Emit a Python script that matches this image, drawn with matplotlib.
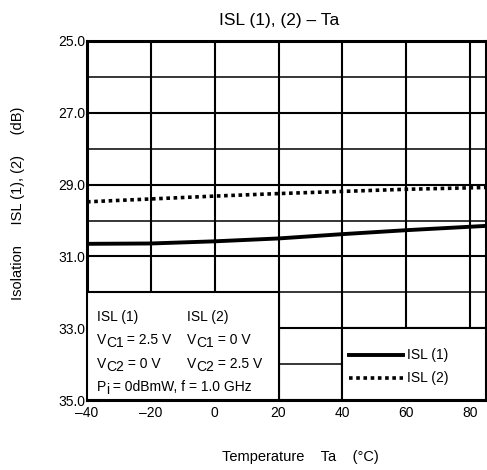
import matplotlib.pyplot as plt
from matplotlib.patches import Rectangle
from matplotlib.ticker import MultipleLocator
from matplotlib.transforms import offset_copy

plt.rcParams['font.family'] = ['Liberation Sans', 'DejaVu Sans']

# データ
temp = [-40, -20, 0, 20, 40, 60, 85]
isl1 = [30.65, 30.64, 30.58, 30.50, 30.38, 30.27, 30.15]
isl2 = [29.48, 29.40, 29.32, 29.25, 29.19, 29.13, 29.08]
y_ticks = [25.0, 27.0, 29.0, 31.0, 33.0, 35.0]
x_ticks = [-40, -20, 0, 20, 40, 60, 80]

fig = plt.figure(figsize=(4.87, 4.70), dpi=100)
ax = fig.add_axes([87 / 487, 70 / 470, 399 / 487, 359 / 470])

ax.set_xlim(-40, 85)
ax.set_ylim(35, 25)
ax.set_xticks(x_ticks)
ax.set_xticklabels([str(t).replace('-', '\u2013') for t in x_ticks])
ax.set_yticks(y_ticks)
ax.set_yticklabels([f'{t:.1f}' for t in y_ticks])
ax.yaxis.set_minor_locator(MultipleLocator(1))
ax.tick_params(which='both', length=0, labelsize=10)
ax.tick_params(axis='x', pad=4)
ax.tick_params(axis='y', pad=1)

# グリッド
ax.grid(which='major', axis='y', color='black', lw=1.5)
ax.grid(which='minor', axis='y', color='black', lw=1.1)
ax.grid(which='major', axis='x', color='black', lw=1.5)
for s in ax.spines.values():
    s.set_linewidth(2.2)

ax.plot(temp, isl1, color='black', lw=2.8, zorder=4)
ax.plot(temp, isl2, color='black', lw=2.6, ls=(0, (1, 1)), zorder=4)

# 条件ボックス
ax.add_patch(Rectangle((-40, 32), 60, 3, facecolor='white', edgecolor='black', lw=1.5, zorder=3))
ax.add_patch(Rectangle((40, 33), 45, 2, facecolor='white', edgecolor='black', lw=1.5, zorder=3))

fs = 10
fig.canvas.draw()
renderer = fig.canvas.get_renderer()


# 下付き文字を同じ大きさで少し下げて描く
def sub_text(x, y, parts):
    tr = ax.transData
    dx = 0
    for s, low in parts:
        t = ax.text(x, y, s, fontsize=fs, va='baseline', zorder=5,
                    transform=offset_copy(tr, fig=fig, x=dx, y=-3 if low else 0, units='dots'))
        dx += t.get_window_extent(renderer).width


ax.text(-37, 32.8, 'ISL (1)', fontsize=fs, va='baseline', zorder=5)
ax.text(-8.6, 32.8, 'ISL (2)', fontsize=fs, va='baseline', zorder=5)
sub_text(-37, 33.45, [('V', False), ('C1', True), (' = 2.5 V', False)])
sub_text(-8.6, 33.45, [('V', False), ('C1', True), (' = 0 V', False)])
sub_text(-37, 34.12, [('V', False), ('C2', True), (' = 0 V', False)])
sub_text(-8.6, 34.12, [('V', False), ('C2', True), (' = 2.5 V', False)])
sub_text(-37, 34.75, [('P', False), ('i', True), (' = 0dBmW, f = 1.0 GHz', False)])

# 凡例
ax.plot([42, 59], [33.75, 33.75], color='black', lw=2.8, zorder=5)
ax.plot([42, 59], [34.4, 34.4], color='black', lw=2.6, ls=(0, (1, 1)), zorder=5)
ax.text(60.3, 33.75, 'ISL (1)', fontsize=fs, va='center', zorder=5)
ax.text(60.3, 34.4, 'ISL (2)', fontsize=fs, va='center', zorder=5)

fig.text(279 / 487, 1 - 20 / 470, 'ISL (1), (2) \u2013 Ta', fontsize=12.5, ha='center', va='center')
fig.text(300 / 487, 1 - 457 / 470, 'Temperature    Ta    (°C)', fontsize=10.5, ha='center', va='center')
fig.text(18 / 487, 1 - 203 / 470, 'Isolation     ISL (1), (2)     (dB)', fontsize=10.5,
         ha='center', va='center', rotation=90)

fig.savefig('out.png', dpi=100)
